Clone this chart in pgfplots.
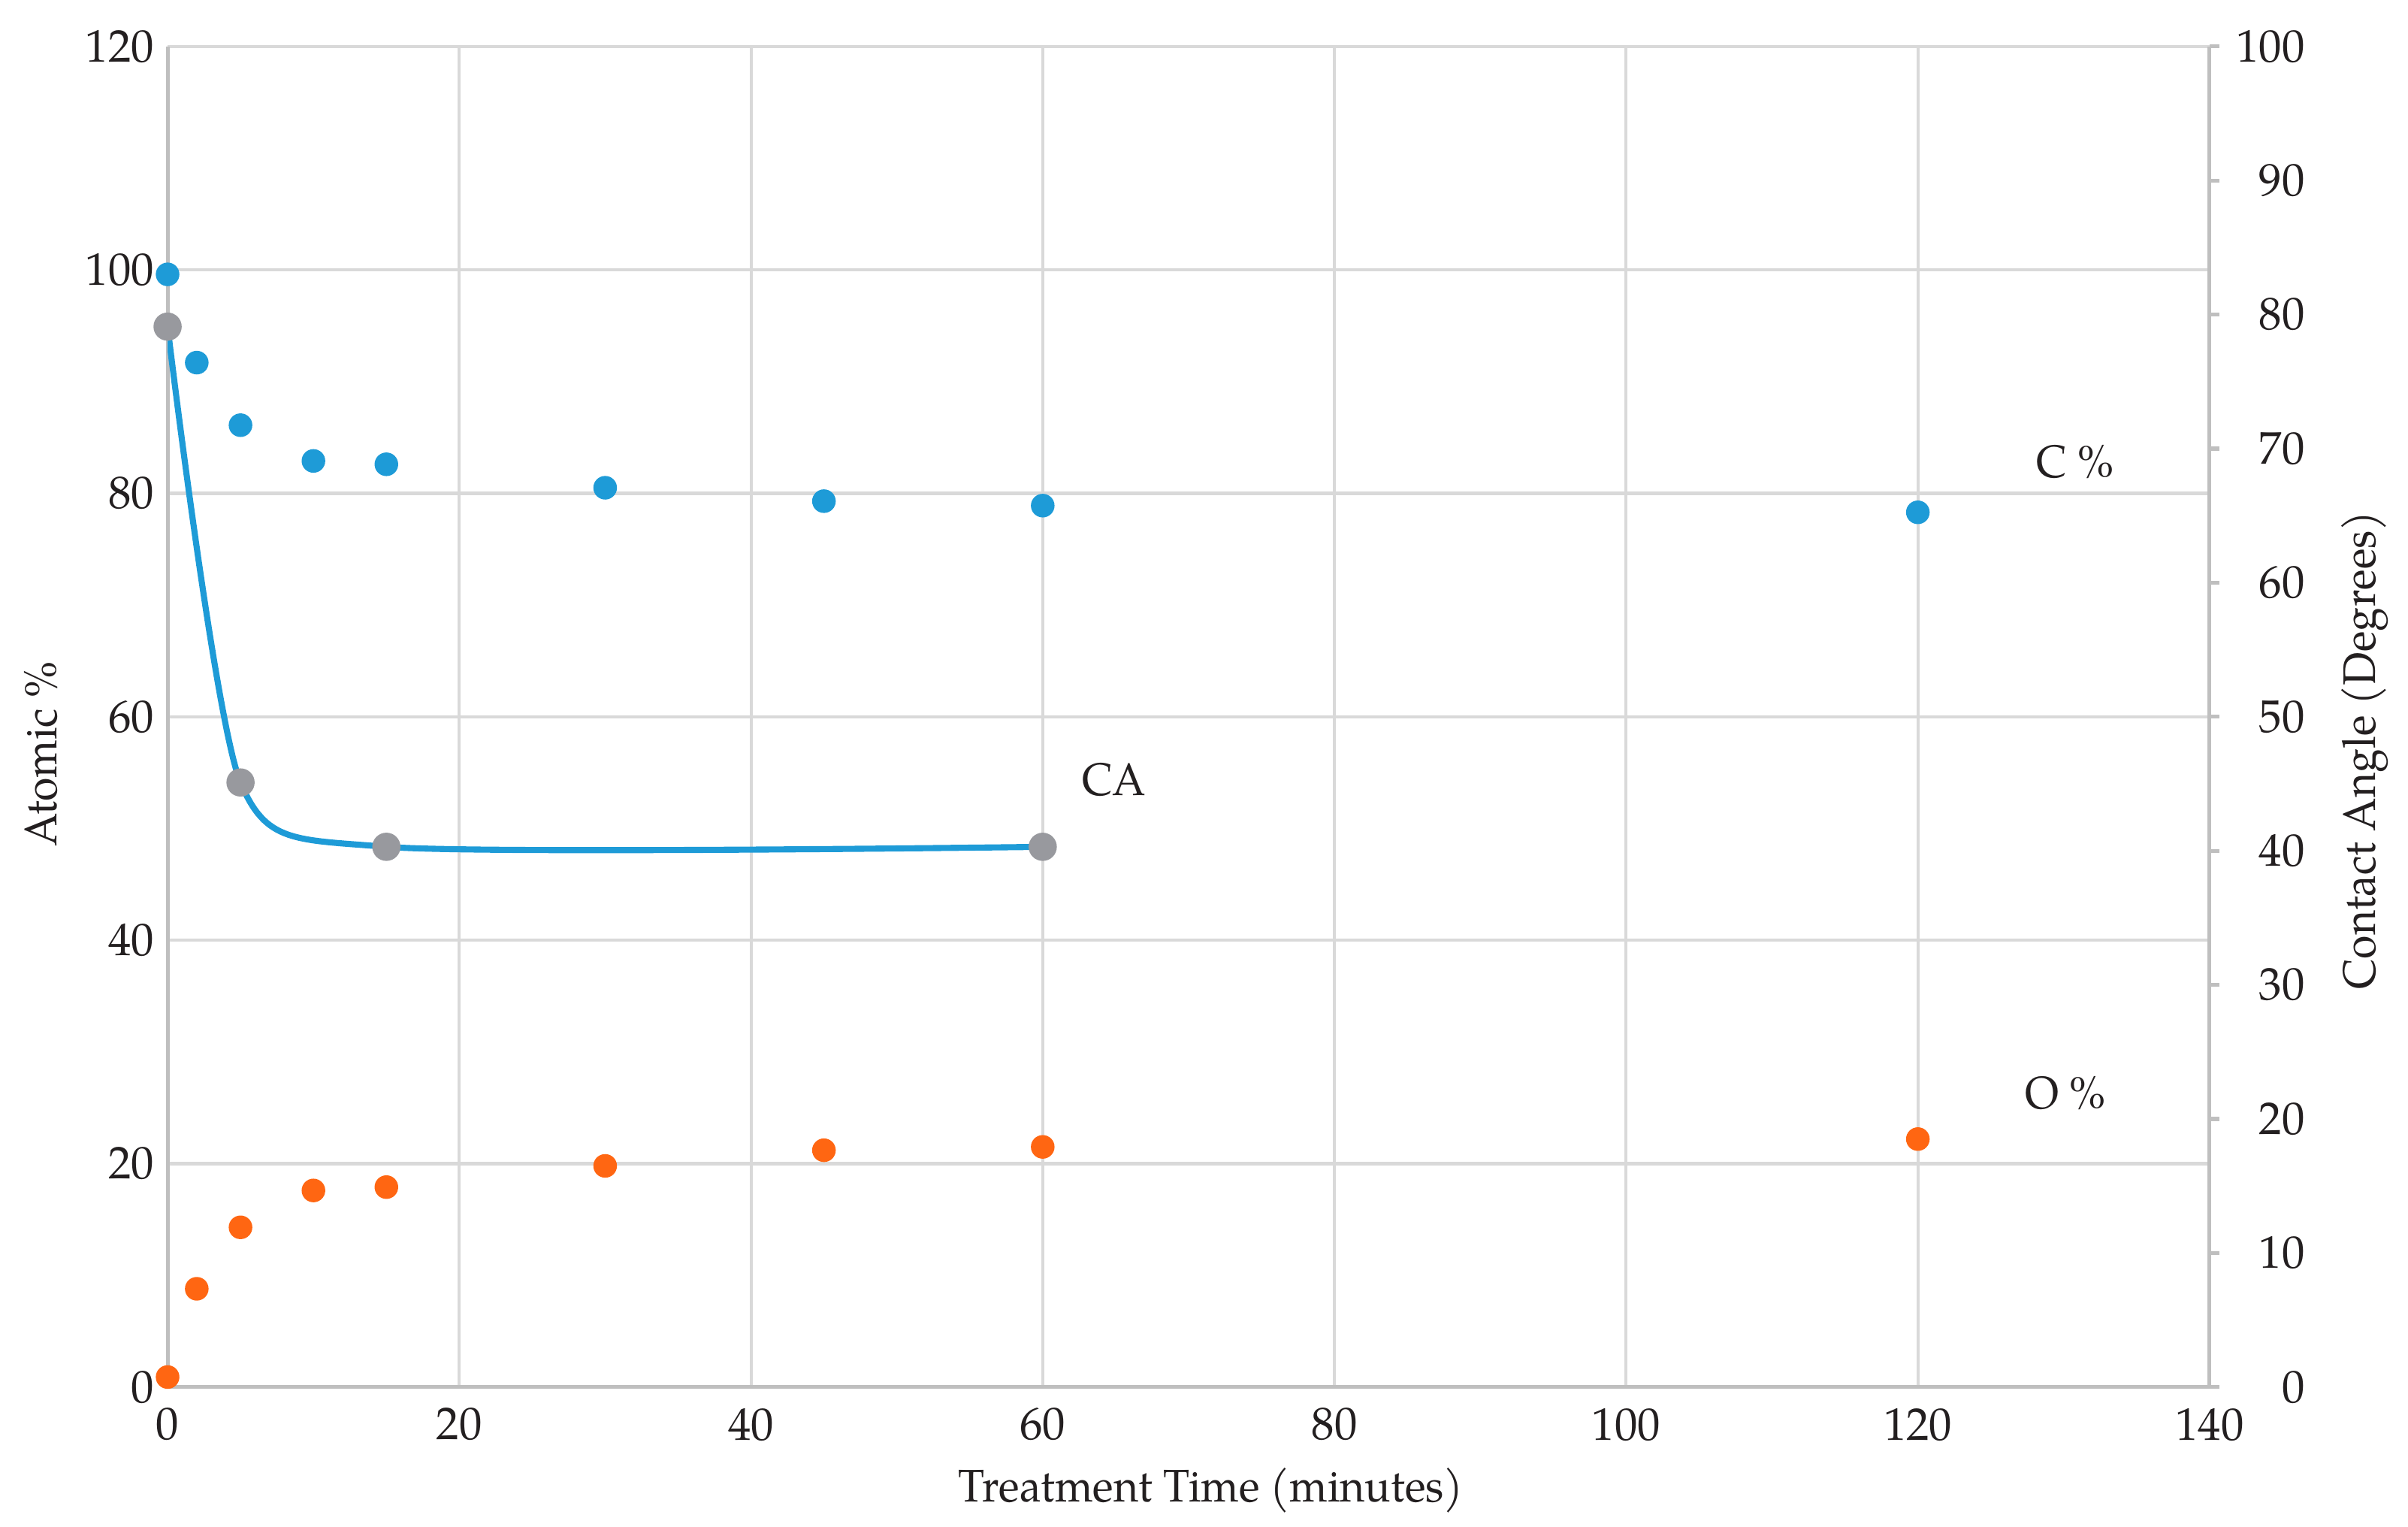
\documentclass[border=0pt]{standalone}
\usepackage{fontspec}
\setmainfont{TeX Gyre Pagella}
\newfontfamily\labelfont[FakeStretch=0.94]{TeX Gyre Pagella}
\usepackage{pgfplots}
\pgfplotsset{compat=1.18}
\definecolor{cblue}{RGB}{30,155,215}
\definecolor{corange}{RGB}{255,102,18}
\definecolor{cgray}{RGB}{152,153,158}
\definecolor{gridgray}{RGB}{217,217,217}
\definecolor{axisgray}{RGB}{191,191,191}
\definecolor{txt}{RGB}{35,31,32}
\begin{document}
\begin{tikzpicture}
\path[use as bounding box] (-44pt,-36.7pt) rectangle (588.2pt,364.1pt);
\pgfplotsset{
  every axis/.append style={
    scale only axis, width=536.1pt, height=351.9pt,
    xmin=0, xmax=140,
    /pgf/number format/assume math mode=true,
    tick label style={font=\fontsize{12}{14}\selectfont, text=txt},
    label style={font=\labelfont\fontsize{12}{14}\selectfont, text=txt},
    axis line style={color=axisgray, line width=1pt},
  }
}
\begin{axis}[
  ymin=0, ymax=120,
  axis x line*=bottom, axis y line*=left,
  xtick={0,20,...,140}, ytick={0,20,...,120},
  grid=major, major grid style={color=gridgray, line width=0.8pt},
  major tick length=0pt,
  xticklabel style={yshift=-2pt},
  xlabel={Treatment Time (minutes)},
  ylabel={Atomic \%},
  xlabel style={at={(axis description cs:0.511,-0.077)}, anchor=center},
  ylabel style={at={(axis description cs:-0.062,0.472)}, anchor=center},
  clip=false,
]
% C %
\addplot[only marks, mark=*, mark size=2.9pt, color=cblue, mark options={fill=cblue, draw=cblue}] coordinates {
(0,99.6) (2,91.7) (5,86.1) (10,82.9) (15,82.6) (30,80.5) (45,79.3) (60,78.9) (120,78.3)
};
% O %
\addplot[only marks, mark=*, mark size=2.9pt, color=corange, mark options={fill=corange, draw=corange}] coordinates {
(0,0.9) (2,8.8) (5,14.3) (10,17.6) (15,17.9) (30,19.8) (45,21.2) (60,21.5) (120,22.2)
};
\node[font=\labelfont\fontsize{12}{14}\selectfont, text=txt] at (axis cs:130.8,82.8) {C \%};
\node[font=\labelfont\fontsize{12}{14}\selectfont, text=txt] at (axis cs:130.1,26.3) {O \%};
\node[font=\labelfont\fontsize{12}{14}\selectfont, text=txt] at (axis cs:64.9,54.4) {CA};
\end{axis}
\begin{axis}[
  ymin=0, ymax=100,
  axis x line=none, axis y line*=right,
  ytick={0,10,...,100},
  tick align=outside, major tick length=2.5pt,
  tick style={color=axisgray, line width=1pt},
  yticklabel style={anchor=east, xshift=26pt},
  ylabel={Contact Angle (Degrees)},
  ylabel style={at={(axis description cs:1.076,0.475)}, anchor=center},
]
\addplot[color=cblue, line width=1.6pt, smooth, tension=0.42, mark=*, mark size=2.9pt, mark options={fill=cgray, draw=cgray}] coordinates {
(0,79.1) (5,45.1) (15,40.3) (60,40.3)
};
\end{axis}
\end{tikzpicture}
\end{document}
